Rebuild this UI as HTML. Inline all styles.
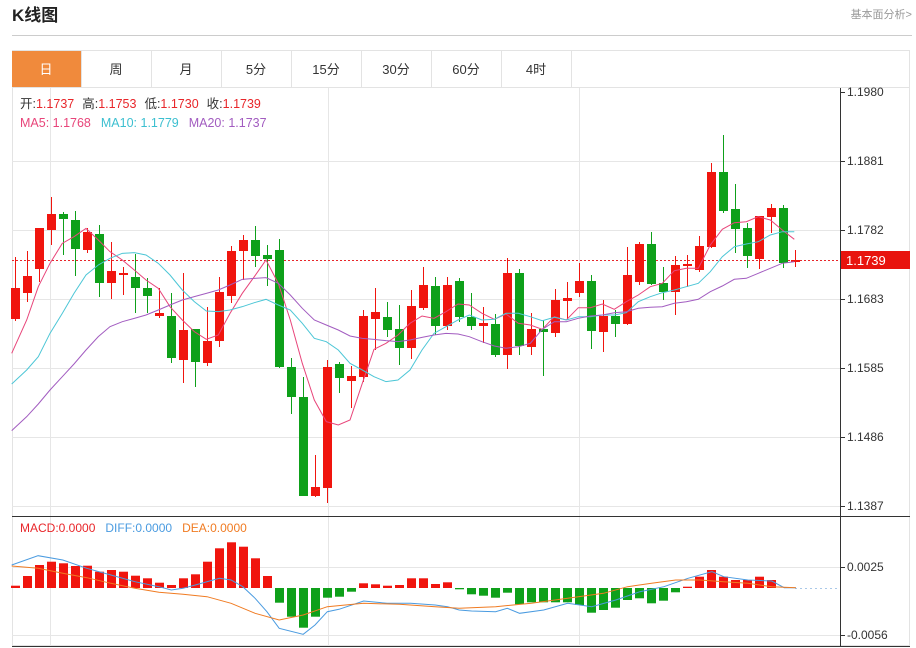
<!DOCTYPE html>
<html><head><meta charset="utf-8"><style>
body{margin:0;background:#fff;width:916px;height:648px;overflow:hidden;font-family:"Liberation Sans","Noto Sans CJK SC",sans-serif}
</style></head><body>
<svg id="s" width="916" height="648" xmlns="http://www.w3.org/2000/svg" style="position:absolute;left:0;top:0;font-family:'Liberation Sans','Noto Sans CJK SC',sans-serif">
<text x="12" y="21" font-size="17" font-weight="bold" fill="#222">K线图</text>
<text x="912" y="18" font-size="11" fill="#999" text-anchor="end">基本面分析&gt;</text>
<line x1="12" y1="35.5" x2="912" y2="35.5" stroke="#ccc"/>
<rect x="12.5" y="50.5" width="897" height="595" fill="none" stroke="#e3e3e3"/>
<line x1="12" y1="87.5" x2="910" y2="87.5" stroke="#e3e3e3"/>
<rect x="12" y="51" width="69" height="36" fill="#f08a3c"/>
<g font-size="13" text-anchor="middle" fill="#333">
<text x="46" y="74" fill="#fff">日</text><text x="116" y="74">周</text><text x="186" y="74">月</text><text x="256" y="74">5分</text><text x="326" y="74">15分</text><text x="396" y="74">30分</text><text x="466" y="74">60分</text><text x="536" y="74">4时</text>
</g>
<g stroke="#e3e3e3"><line x1="81.5" y1="51" x2="81.5" y2="87"/><line x1="151.5" y1="51" x2="151.5" y2="87"/><line x1="221.5" y1="51" x2="221.5" y2="87"/><line x1="291.5" y1="51" x2="291.5" y2="87"/><line x1="361.5" y1="51" x2="361.5" y2="87"/><line x1="431.5" y1="51" x2="431.5" y2="87"/><line x1="501.5" y1="51" x2="501.5" y2="87"/><line x1="571.5" y1="51" x2="571.5" y2="87"/></g>
<g id="g"></g>
<line x1="840.5" y1="88" x2="840.5" y2="646" stroke="#333"/>
<line x1="12" y1="516.5" x2="910" y2="516.5" stroke="#333"/>
<line x1="12" y1="646.5" x2="910" y2="646.5" stroke="#333"/>
<g font-size="12.5">
<text x="20" y="108" fill="#333">开:<tspan fill="#e8262a">1.1737</tspan><tspan dx="8">高:</tspan><tspan fill="#e8262a">1.1753</tspan><tspan dx="8">低:</tspan><tspan fill="#e8262a">1.1730</tspan><tspan dx="8">收:</tspan><tspan fill="#e8262a">1.1739</tspan></text>
<text x="20" y="127" fill="#e8457a">MA5: 1.1768<tspan fill="#3cbfd0" dx="10">MA10: 1.1779</tspan><tspan fill="#a25cc0" dx="10">MA20: 1.1737</tspan></text>
<text x="20" y="532" font-size="12" fill="#e8262a">MACD:0.0000<tspan fill="#4a9be0" dx="10">DIFF:0.0000</tspan><tspan fill="#f07b22" dx="10">DEA:0.0000</tspan></text>
</g>
</svg>
<script>
var g=document.getElementById('g'),h='';
function L(x1,y1,x2,y2,c,d){h+='<line x1="'+x1+'" y1="'+y1+'" x2="'+x2+'" y2="'+y2+'" stroke="'+c+'"'+(d?' stroke-dasharray="'+d+'"':'')+'/>';}
[161,230,299,368,437,506].forEach(function(y){L(12,y+.5,840,y+.5,'#e6e6e6')});
[567,635].forEach(function(y){L(12,y+.5,840,y+.5,'#e6e6e6')});
[50,328,579].forEach(function(x){L(x+.5,88,x+.5,646,'#e6e6e6')});
var ticks=[[92,'1.1980'],[161,'1.1881'],[230,'1.1782'],[299,'1.1683'],[368,'1.1585'],[437,'1.1486'],[506,'1.1387'],[567,'0.0025'],[635,'-0.0056']];
ticks.forEach(function(t){L(840,t[0]+.5,845,t[0]+.5,'#333');h+='<text x="847" y="'+(t[0]+4)+'" font-size="12" fill="#333">'+t[1]+'</text>';});
L(12,260.5,840,260.5,'#e8262a','2,2');
h+='<rect x="840" y="251" width="70" height="18" fill="#e8140e"/><text x="846" y="265" font-size="13" fill="#fff">1.1739</text>';
L(795,588.5,840,588.5,'#a9c8e8','2,3');
var C=[['R',288,319,257,321],['R',276,293,251,302],['R',228,269,228,282],['R',214,230,197,245],['G',214,219,212,255],['G',220,249,211,276],['R',232,250,228,253],['G',234,283,225,297],['R',271,283,242,299],['R',273,275,267,295],['G',277,288,254,313],['G',288,296,278,313],['R',313,316,288,318],['G',316,358,293,363],['R',330,360,273,383],['G',329,362,329,387],['R',341,363,307,366],['R',292,341,277,347],['R',251,296,246,303],['R',240,251,235,280],['G',240,256,226,267],['G',255,259,245,286],['G',250,367,239,368],['G',367,397,358,414],['G',397,496,377,496],['R',487,496,455,497],['R',367,488,360,503],['G',364,378,362,393],['R',376,381,366,408],['R',316,377,310,382],['R',312,319,288,350],['G',317,330,302,337],['G',329,348,305,365],['R',306,348,290,359],['R',285,308,267,310],['G',286,326,277,335],['R',285,326,277,330],['G',281,317,278,322],['G',317,326,293,330],['R',323,326,307,343],['G',324,355,314,357],['R',273,355,258,369],['G',273,346,269,355],['R',329,347,313,355],['G',329,332,320,376],['R',300,333,289,337],['R',298,301,282,320],['R',281,293,263,297],['G',281,331,275,349],['R',316,332,300,352],['G',316,324,310,337],['R',275,324,247,325],['R',244,282,242,285],['G',244,284,232,285],['G',283,292,267,300],['R',265,292,256,315],['R',264,266,255,287],['R',246,270,236,272],['R',172,247,163,248],['G',172,211,135,213],['G',209,229,184,253],['G',228,256,223,268],['R',216,259,216,269],['R',208,217,204,233],['G',208,263,205,268],['R',260,262,250,267]];
function pl(pts,c){h+='<polyline fill="none" stroke="'+c+'" stroke-width="1" points="'+pts.map(function(p){return p.join(',')}).join(' ')+'"/>';}
function z2(a){var o=[];for(var i=0;i<a.length;i+=2)o.push([(a[i]/3).toFixed(1),180+a[i+1]/3]);return o;}
function z3(a){var o=[];for(var i=0;i<a.length;i+=2)o.push([(456+a[i]/3).toFixed(1),(120+a[i+1]/3).toFixed(1)]);return o;}
var ma5=z2([35,520,80,420,115,320,150,250,187,190,222,170,258,145,295,180,330,215,367,240,403,270,438,300,475,325,510,380,547,420,583,455,619,478,655,465,690,400,727,340,763,290,798,240,835,310,871,420,907,550,943,660,979,725,1015,735,1050,720,1087,610,1122,508,1158,490,1194,465,1230,430,1266,408,1302,415,1338,395,1374,372]).concat(z3([40,555,78,580,115,598,150,582,187,610,223,615,259,628,295,590,331,600,367,563,403,563,439,552,475,568,511,545,547,525,583,500,619,490,655,452,691,445,727,445,763,375,799,328,835,308,871,305,907,290,943,300,979,330,1015,358]));
var ma10=z2([35,612,80,570,115,530,150,460,187,400,222,340,258,285,295,255,330,235,367,220,403,218,438,225,475,250,510,285,547,330,583,365,619,393,655,395,690,390,727,380,763,368,798,358,835,375,871,390,907,430,943,475,979,485,1015,510,1050,550,1087,570,1122,590,1158,605,1194,600,1230,570,1266,510,1302,460,1338,440,1374,420]).concat(z3([40,585,78,600,115,598,150,580,187,580,223,590,259,602,295,592,331,600,367,590,403,590,439,585,475,585,511,578,547,545,583,530,619,518,655,510,691,500,727,490,763,455,799,410,835,380,871,372,907,365,943,345,979,335,1015,335]));
var ma20=z2([35,752,80,710,115,672,150,630,187,590,222,552,258,510,295,470,330,440,367,425,403,415,438,405,475,390,510,375,547,360,583,350,619,340,655,330,690,315,727,298,763,295,798,293,835,310,871,345,907,385,943,420,979,435,1015,450,1050,468,1087,475,1122,478,1158,482,1194,485,1230,480,1266,472,1302,465,1338,460,1374,462]).concat(z3([40,650,78,665,115,678,150,685,187,680,223,670,259,628,295,605,331,605,367,595,403,588,439,585,475,578,511,575,547,565,583,562,619,560,655,550,691,545,727,538,763,515,799,498,835,478,871,475,907,460,943,445,979,430,1015,425]));
C.forEach(function(c,i){var x=15+12*i,col=c[0]=='R'?'#f0150e':'#0ea01a';L(x+.5,c[3],x+.5,c[4],col);h+='<rect x="'+(x-4)+'" y="'+c[1]+'" width="9" height="'+Math.max(2,c[2]-c[1])+'" fill="'+col+'"/>';});
pl(ma5,'#e8457a');pl(ma10,'#4cc6d6');pl(ma20,'#a25cc0');
var B=[212,183,150,140,145,153,152,170,165,170,182,190,203,210,190,178,140,100,82,95,130,183,263,305,338,305,248,245,230,205,208,212,210,190,190,207,202,223,238,242,248,233,268,262,262,262,262,270,293,285,278,255,250,265,257,232,215,185,165,185,195,195,185,195];
B.forEach(function(b,i){var x=15+12*i,y=515+b/3,z=588,col=b<218?'#f0150e':'#0ea01a';var t=Math.min(y,z),hh=Math.max(1,Math.abs(y-z));h+='<rect x="'+(x-4)+'" y="'+t.toFixed(1)+'" width="9" height="'+hh.toFixed(1)+'" fill="'+col+'"/>';});
function z4(a){var o=[];for(var i=0;i<a.length;i+=2)o.push([(a[i]/1.705+0).toFixed(1),(515+a[i+1]/3).toFixed(1)]);return o;}
pl(z4([20,150,65,122,107,135,148,160,189,180,230,200,271,215,292,225,312,220,333,210,374,190,394,195,414,215,435,250,455,290,476,340,517,358,537,330,558,290,578,283,620,258,660,265,700,265,742,270,763,275,783,285,804,288,845,290,865,280,886,295,927,285,968,265,1009,275,1050,255,1091,230,1132,215,1173,190,1214,170,1234,185,1275,195,1316,198,1337,218,1357,218]),'#4a9be0');
pl(z4([20,153,65,160,107,175,148,188,189,205,230,220,271,232,312,238,353,245,394,265,435,295,476,315,517,300,558,275,620,265,681,268,742,275,783,280,845,275,906,265,968,250,1029,235,1070,215,1111,205,1152,195,1193,195,1234,200,1275,205,1316,215,1357,218]),'#f07b22');
g.innerHTML=h;
</script>
</body></html>
